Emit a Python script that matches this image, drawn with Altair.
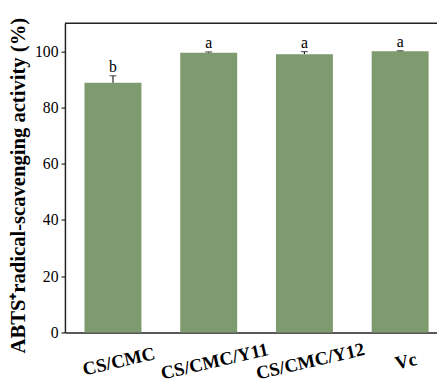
import altair as alt
import pandas as pd

categories = ["CS/CMC", "CS/CMC/Y11", "CS/CMC/Y12", "Vc"]
values = [88.8, 99.5, 99.0, 100.0]
errors = [2.5, 0.3, 0.9, 0.2]
letters = ["b", "a", "a", "a"]

df = pd.DataFrame({"cat": categories, "val": values, "err": errors, "lab": letters})
df["top"] = df["val"] + df["err"]

W, H = 379, 315
FONT = "Liberation Serif"

xscale = alt.Scale(domain=categories, paddingInner=0.405, paddingOuter=0.146, align=0.70)
yscale = alt.Scale(domain=[0, 110], nice=False)

xenc = alt.X("cat:N", scale=xscale, sort=categories,
             axis=alt.Axis(title=None, labelAngle=347, labelFont=FONT, labelFontSize=19,
                           labelFontWeight="bold", labelColor="black", ticks=False,
                           labelPadding=29, labelBaseline="middle", labelAlign="center",
                           labelOffset=6, labelOverlap=False, labelLimit=300,
                           domainColor="#222", domainWidth=1.5, grid=False))
yenc = alt.Y("val:Q", scale=yscale,
             axis=alt.Axis(title="ABTS⁺radical-scavenging activity (%)", values=[0, 20, 40, 60, 80, 100],
                           labelFont=FONT, labelFontSize=16, labelColor="black",
                           tickSize=4, tickColor="#222", tickWidth=1.2, labelPadding=3,
                           domainColor="#222", domainWidth=1.5, grid=False,
                           titleFont=FONT, titleFontSize=21, titleFontWeight="bold",
                           titleColor="black", titleAngle=270, titleX=-47, titleY=165,
                           titleAlign="center", titleBaseline="middle", titleLimit=400))

bars = alt.Chart(df).mark_bar(color="#7e9a6f").encode(x=xenc, y=yenc)
err_rule = alt.Chart(df).mark_rule(color="#222", strokeWidth=1.2).encode(
    x=alt.X("cat:N", scale=xscale, sort=categories), y="val:Q", y2="top:Q")
cap = alt.Chart(df).mark_tick(color="#222", thickness=1.2, size=7).encode(
    x=alt.X("cat:N", scale=xscale, sort=categories), y=alt.Y("top:Q", scale=yscale))
txt = alt.Chart(df).mark_text(font=FONT, fontSize=16, dy=-9, color="black").encode(
    x=alt.X("cat:N", scale=xscale, sort=categories), y=alt.Y("top:Q", scale=yscale), text="lab:N")
topline = alt.Chart(pd.DataFrame({"y": [110]})).mark_rule(color="#222", strokeWidth=1.5).encode(
    y=alt.Y("y:Q", scale=yscale), x=alt.value(0), x2=alt.value(W))

chart = alt.layer(bars, err_rule, cap, txt, topline).properties(
    width=W, height=H,
    autosize=alt.AutoSizeParams(type="none"),
    padding={"left": 58, "top": 12, "right": 0, "bottom": 48},
).configure_view(stroke=None)

chart.save("out.html", embed_options={"renderer": "svg", "actions": False})
